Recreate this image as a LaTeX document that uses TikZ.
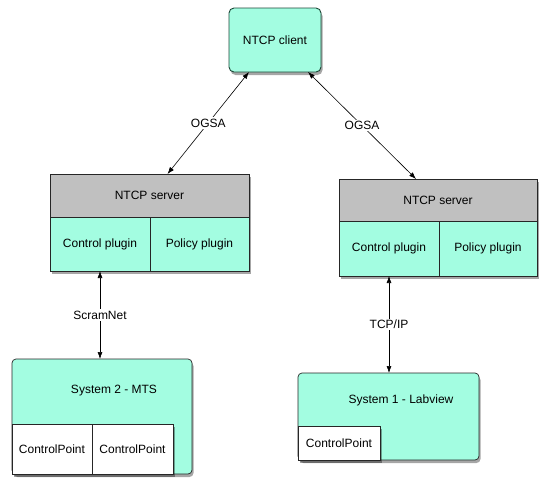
\documentclass[tikz,border=0pt]{standalone}
\usepackage{fontspec}
\setmainfont{Liberation Sans}
\usetikzlibrary{arrows.meta,shadows,calc}
\definecolor{aqua}{RGB}{163,253,225}
\definecolor{servergray}{RGB}{192,192,192}
\definecolor{clientline}{RGB}{28,72,56}
\tikzset{>={Latex[length=7pt,width=5pt]}}
\tikzset{
	boxshadow/.style={drop shadow={shadow xshift=1.5pt,shadow yshift=-3pt,opacity=0.35,fill=black}},
	clientbox/.style={draw=clientline,line width=0.9pt,fill=aqua,rounded corners=5pt,inner sep=0pt,outer sep=0pt,boxshadow},
	headbox/.style={draw=black!85,line width=0.7pt,fill=servergray,inner sep=0pt,outer sep=0pt,anchor=north west,boxshadow},
	plugbox/.style={draw=black!85,line width=0.7pt,fill=aqua,inner sep=0pt,outer sep=0pt,anchor=north west,boxshadow},
	sysbox/.style={draw=black!85,line width=0.7pt,fill=aqua,rounded corners=4pt,inner sep=0pt,outer sep=0pt,anchor=north west,boxshadow},
	cpbox/.style={draw=black!85,line width=0.7pt,fill=white,inner sep=0pt,outer sep=0pt,anchor=south west,boxshadow},
	lbl/.style={fill=white,inner sep=1.5pt},
	link/.style={<->,line width=0.6pt}
}

\begin{document}
\begin{tikzpicture}[x=1pt,y=-1pt,font=\fontsize{12}{14}\selectfont]
		\useasboundingbox (0,0) rectangle (548,488);
		% client
		\node[clientbox,minimum width=92,minimum height=64] (client) at (275,40) {NTCP client};
		% left server
		\node[headbox,minimum width=199,minimum height=43] (srvL) at (50,174) {NTCP server};
		\node[plugbox,minimum width=100,minimum height=54] (ctlL) at (srvL.south west) {Control plugin};
		\node[plugbox,minimum width=99,minimum height=54] (polL) at (ctlL.north east) {Policy plugin};
		% right server
		\node[headbox,minimum width=198,minimum height=42] (srvR) at (339,179) {NTCP server};
		\node[plugbox,minimum width=100,minimum height=55] (ctlR) at (srvR.south west) {Control plugin};
		\node[plugbox,minimum width=98,minimum height=55] (polR) at (ctlR.north east) {Policy plugin};
		% system 2
		\node[sysbox,minimum width=180,minimum height=115] (sys2) at (12,359) {};
		\node (sys2txt) at (114,391) {System 2 - MTS};
		\node[cpbox,minimum width=80,minimum height=50] (cp2a) at (sys2.south west) {ControlPoint};
		\node[cpbox,minimum width=81,minimum height=50] (cp2b) at (cp2a.south east) {ControlPoint};
		% system 1
		\node[sysbox,minimum width=181,minimum height=87] (sys1) at (298,373) {};
		\node (sys1txt) at (401,400) {System 1 - Labview};
		\node[cpbox,minimum width=82,minimum height=34] (cp1) at (sys1.south west) {ControlPoint};
		% links
		\draw[link] ([xshift=20pt]client.south west) -- node[lbl]{OGSA} ([xshift=18pt]srvL.north);
		\draw[link] ([xshift=-13pt]client.south east) -- node[lbl]{OGSA} ([xshift=-22pt]srvR.north);
		\draw[link] (ctlL.south) -- node[lbl]{ScramNet} (ctlL.south |- sys2.north);
		\draw[link] (ctlR.south) -- node[lbl]{TCP/IP} (ctlR.south |- sys1.north);
	\end{tikzpicture}
\end{document}
